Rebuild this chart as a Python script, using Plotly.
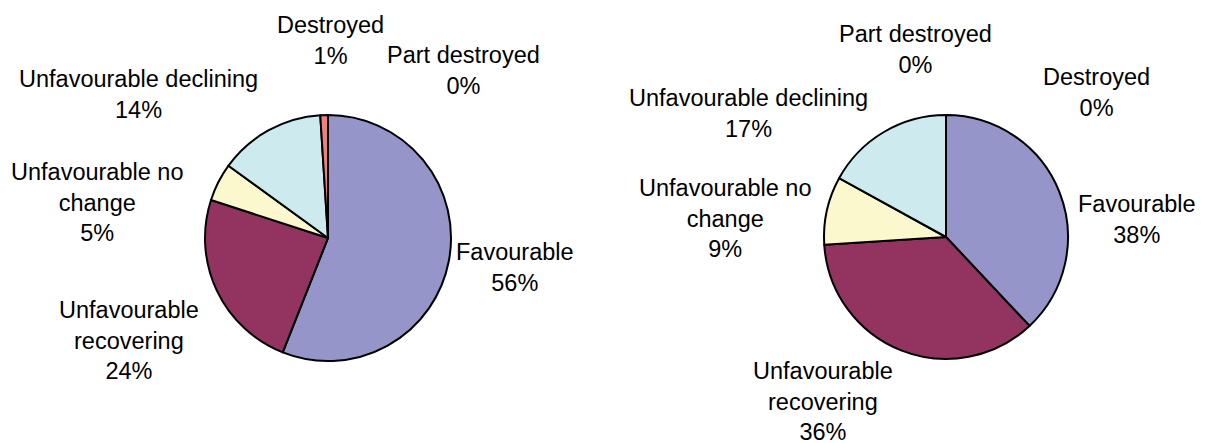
import plotly.graph_objects as go

# ---- data ----
categories = ["Favourable", "Unfavourable recovering", "Unfavourable no change",
              "Unfavourable declining", "Destroyed", "Part destroyed"]
left_values = [56, 24, 5, 14, 1, 0]
right_values = [38, 36, 9, 17, 0, 0]

# display text (wrapped as in the original)
left_label_text = ["Favourable", "Unfavourable<br>recovering", "Unfavourable no<br>change",
                   "Unfavourable declining", "Destroyed", "Part destroyed"]
right_label_text = ["Favourable", "Unfavourable<br>recovering", "Unfavourable no<br>change",
                    "Unfavourable declining", "Destroyed", "Part destroyed"]

colors = ["#9595C9", "#933360", "#FBF8CE", "#CDEBEF", "#F08080", "#FFFFFF"]

# page body has an 8px margin; the figure is placed at (8, 8)
OX, OY = 8, 8
W, H = 1205 - OX, 443 - OY

# label centre positions in screen pixels (x, y from top)
left_label_pos = [(515, 267), (129, 340), (97, 202), (138, 94), (330, 40), (463, 70)]
right_label_pos = [(1137, 220), (823, 401), (725, 218), (748, 114), (1096, 93), (915, 50)]

pie_specs = [
    (left_values, left_label_text, left_label_pos, (328, 238, 123)),
    (right_values, right_label_text, right_label_pos, (946, 237, 122)),
]


def fx(px):
    return (px - OX) / W


def fy(py):
    return 1 - (py - OY) / H


fig = go.Figure()
annotations = []
for values, texts, positions, (cx, cy, r) in pie_specs:
    fig.add_trace(go.Pie(
        labels=categories,
        values=values,
        sort=False,
        direction="clockwise",
        rotation=0,
        textinfo="none",
        hoverinfo="label+percent",
        marker=dict(colors=colors, line=dict(color="#000000", width=2)),
        domain=dict(x=[fx(cx - r), fx(cx + r)],
                    y=[fy(cy + r), fy(cy - r)]),
        showlegend=False,
    ))
    total = sum(values)
    for v, t, (px, py) in zip(values, texts, positions):
        pct = round(100 * v / total)
        annotations.append(dict(
            text=f"{t}<br>{pct}%",
            x=fx(px), y=fy(py), xref="paper", yref="paper",
            xanchor="center", yanchor="middle", align="center",
            showarrow=False,
            font=dict(family="Liberation Sans, Arial, sans-serif", size=23.5, color="#000000"),
        ))

fig.update_layout(
    width=W, height=H,
    margin=dict(l=0, r=0, t=0, b=0),
    paper_bgcolor="#FFFFFF",
    plot_bgcolor="#FFFFFF",
    annotations=annotations,
)

fig.write_html("out.html")
